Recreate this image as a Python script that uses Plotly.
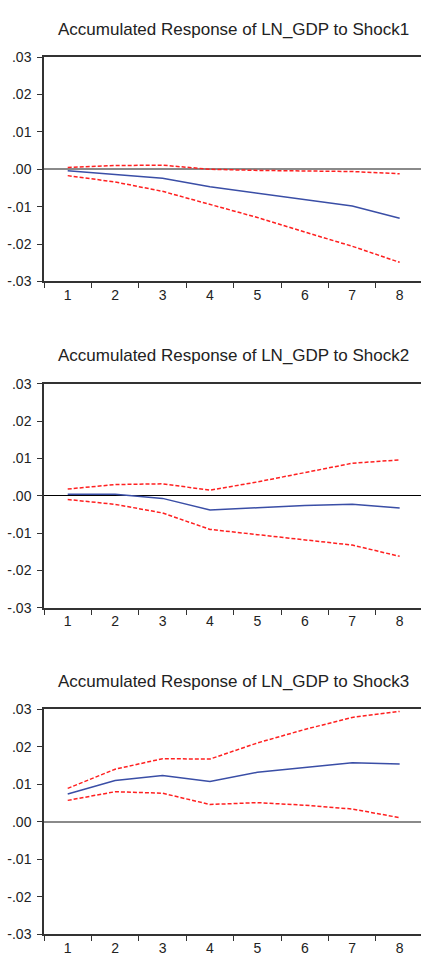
import plotly.graph_objects as go

periods = [1, 2, 3, 4, 5, 6, 7, 8]

titles = [
    "Accumulated Response of LN_GDP to Shock1",
    "Accumulated Response of LN_GDP to Shock2",
    "Accumulated Response of LN_GDP to Shock3",
]

shock1_resp = [-0.0004, -0.0013, -0.0024, -0.0047, -0.0064, -0.0081, -0.0098, -0.0131]
shock1_upper = [0.0005, 0.0010, 0.0011, 0.0000, -0.0003, -0.0004, -0.0006, -0.0012]
shock1_lower = [-0.0017, -0.0034, -0.0059, -0.0094, -0.0129, -0.0168, -0.0206, -0.0249]

shock2_resp = [0.0004, 0.0004, -0.0007, -0.0038, -0.0032, -0.0026, -0.0023, -0.0033]
shock2_upper = [0.0018, 0.0030, 0.0032, 0.0015, 0.0037, 0.0063, 0.0087, 0.0096]
shock2_lower = [-0.0010, -0.0023, -0.0046, -0.0090, -0.0104, -0.0117, -0.0132, -0.0162]

shock3_resp = [0.0074, 0.0110, 0.0123, 0.0107, 0.0132, 0.0145, 0.0157, 0.0154]
shock3_upper = [0.0089, 0.0140, 0.0168, 0.0167, 0.0210, 0.0246, 0.0278, 0.0294]
shock3_lower = [0.0057, 0.0080, 0.0076, 0.0046, 0.0051, 0.0044, 0.0034, 0.0011]

y_tickvals = [0.03, 0.02, 0.01, 0.0, -0.01, -0.02, -0.03]
y_ticktext = [".03", ".02", ".01", ".00", "-.01", "-.02", "-.03"]
x_boundaries = [0.5, 1.5, 2.5, 3.5, 4.5, 5.5, 6.5, 7.5]

panels = [
    (shock1_resp, shock1_upper, shock1_lower),
    (shock2_resp, shock2_upper, shock2_lower),
    (shock3_resp, shock3_upper, shock3_lower),
]

W, H = 421, 964
plot_px = [(50, 278), (382, 610), (713, 942)]
zero_styles = [("#8a8a8a", 2), ("#000000", 1), ("#8a8a8a", 2)]
title_y_px = [22, 353, 685]

BLUE = "#3a4ea6"
RED = "#ff2020"
AXIS = "#333333"
FONT = "Liberation Sans, Arial, sans-serif"

fig = go.Figure()
layout = dict(
    width=W, height=H,
    margin=dict(l=0, r=0, t=0, b=0),
    paper_bgcolor="white", plot_bgcolor="white",
    showlegend=False,
    font=dict(family=FONT, size=14, color="#222222"),
    annotations=[],
)

for i, ((resp, up, lo), (top, bot)) in enumerate(zip(panels, plot_px)):
    n = "" if i == 0 else str(i + 1)
    xa, ya = "x" + n, "y" + n
    for series, color, dash in ((up, RED, "4px,2px"), (lo, RED, "4px,2px"), (resp, BLUE, "solid")):
        fig.add_trace(go.Scatter(
            x=periods, y=series, mode="lines", xaxis=xa, yaxis=ya,
            line=dict(color=color, width=1.5, dash=dash),
            hoverinfo="skip",
        ))
    layout["xaxis" + n] = dict(
        domain=[44 / W, 1], anchor=ya, range=[0.5, 8.45],
        tickvals=periods, ticktext=[str(p) for p in periods],
        ticks="", showgrid=False, zeroline=False,
        showline=True, linecolor=AXIS, linewidth=1.5, mirror=True,
        tickfont=dict(size=14, color="#222222"),
        minor=dict(tickvals=x_boundaries, ticks="outside", ticklen=5,
                   tickcolor=AXIS, tickwidth=1.2, showgrid=False),
        fixedrange=True,
    )
    zc, zw = zero_styles[i]
    layout["yaxis" + n] = dict(
        domain=[1 - bot / H, 1 - top / H], anchor=xa, range=[-0.03, 0.03],
        tickvals=y_tickvals, ticktext=y_ticktext,
        ticks="outside", ticklen=5, tickcolor=AXIS, tickwidth=1.2,
        ticklabelstandoff=3,
        showgrid=False, zeroline=True, zerolinecolor=zc, zerolinewidth=zw,
        showline=True, linecolor=AXIS, linewidth=1.5,
        tickfont=dict(size=14, color="#222222"),
        fixedrange=True,
    )
    layout["annotations"].append(dict(
        text=titles[i], xref="paper", yref="paper",
        x=233.5 / W, y=1 - title_y_px[i] / H, xanchor="center", yanchor="middle",
        showarrow=False, font=dict(family=FONT, size=17, color="#222222"),
    ))

fig.update_layout(**layout)
fig.write_html("out.html", config={"displayModeBar": False},
               post_script="document.body.style.margin='0';")
